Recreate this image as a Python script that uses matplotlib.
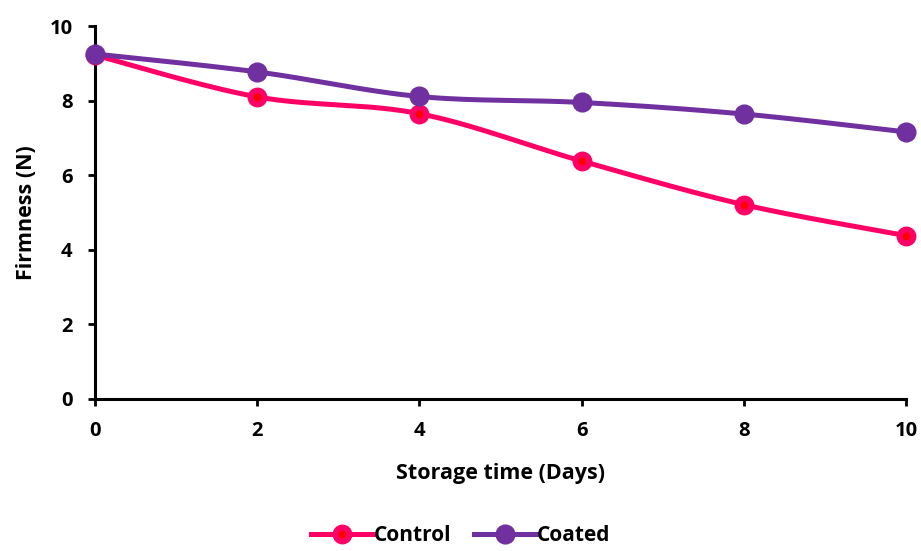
"""Firmness of control vs coated samples over storage time."""

import numpy as np
import matplotlib
matplotlib.use('Agg')
import matplotlib.pyplot as plt


days = [0, 2, 4, 6, 8, 10]
control = [9.22, 8.10, 7.65, 6.38, 5.21, 4.38]
coated = [9.25, 8.77, 8.11, 7.95, 7.64, 7.16]

pink = '#FF0066'
purple = '#7030A0'

plt.rcParams['font.family'] = ['Open Sans', 'DejaVu Sans']
plt.rcParams['font.weight'] = 'bold'


def smooth(x, y, n=30):
    """Catmull-Rom curve through the points, like Excel's smoothed line."""
    x = np.asarray(x, float)
    y = np.asarray(y, float)
    px = np.concatenate([[x[0]], x, [x[-1]]])
    py = np.concatenate([[y[0]], y, [y[-1]]])
    xs, ys = [], []
    t = np.linspace(0, 1, n)
    for i in range(1, len(px) - 2):
        p0, p1, p2, p3 = [np.array([px[j], py[j]]) for j in range(i - 1, i + 3)]
        c1 = p1 + (p2 - p0) / 6
        c2 = p2 - (p3 - p1) / 6
        pts = ((1 - t) ** 3)[:, None] * p1 + (3 * (1 - t) ** 2 * t)[:, None] * c1 \
            + (3 * (1 - t) * t ** 2)[:, None] * c2 + (t ** 3)[:, None] * p2
        xs.extend(pts[:, 0])
        ys.extend(pts[:, 1])
    return xs, ys


fig = plt.figure(figsize=(9.21, 5.51), dpi=100, facecolor='white')
ax = fig.add_axes([0.1031, 0.2759, 0.8806, 0.6769])

for vals, col, face, mew in [(control, pink, '#FF0000', 4.3), (coated, purple, purple, 1.0)]:
    sx, sy = smooth(days, vals)
    ax.plot(sx, sy, color=col, lw=3.6, solid_capstyle='round', zorder=2, clip_on=False)
    ax.plot(days, vals, ls='none', marker='o', ms=10 if mew > 2 else 13.5,
            mfc=face, mec=col, mew=mew, zorder=3, clip_on=False)

ax.set_xlim(0, 10)
ax.set_ylim(0, 10)
ax.set_xticks(days)
ax.set_yticks([0, 2, 4, 6, 8, 10])
for s in ['top', 'right']:
    ax.spines[s].set_visible(False)
for s in ['left', 'bottom']:
    ax.spines[s].set_linewidth(2.2)
ax.tick_params(direction='out', length=5, width=2, labelsize=14.5)
ax.tick_params(axis='x', pad=11)
ax.tick_params(axis='y', pad=11)
for lab in ax.get_xticklabels() + ax.get_yticklabels():
    lab.set_fontweight('bold')

ax.set_xlabel('Storage time (Days)', fontsize=15.5, fontweight='bold', labelpad=16)
ax.set_ylabel('Firmness (N)', fontsize=15.5, fontweight='bold', labelpad=9)

h1, = ax.plot([], [], color=pink, lw=3.6, marker='o', ms=10, mfc='#FF0000', mec=pink, mew=4.3)
h2, = ax.plot([], [], color=purple, lw=3.6, marker='o', ms=13.5, mfc=purple, mec=purple, mew=1.0)
fig.legend([h1, h2], ['Control', 'Coated'], loc='lower center', bbox_to_anchor=(0.5, -0.025),
           ncol=2, frameon=False, handlelength=3.0, handletextpad=0.0,
           columnspacing=1.1, prop={'weight': 'bold', 'size': 15})

fig.savefig('out.png', dpi=100, facecolor='white')
